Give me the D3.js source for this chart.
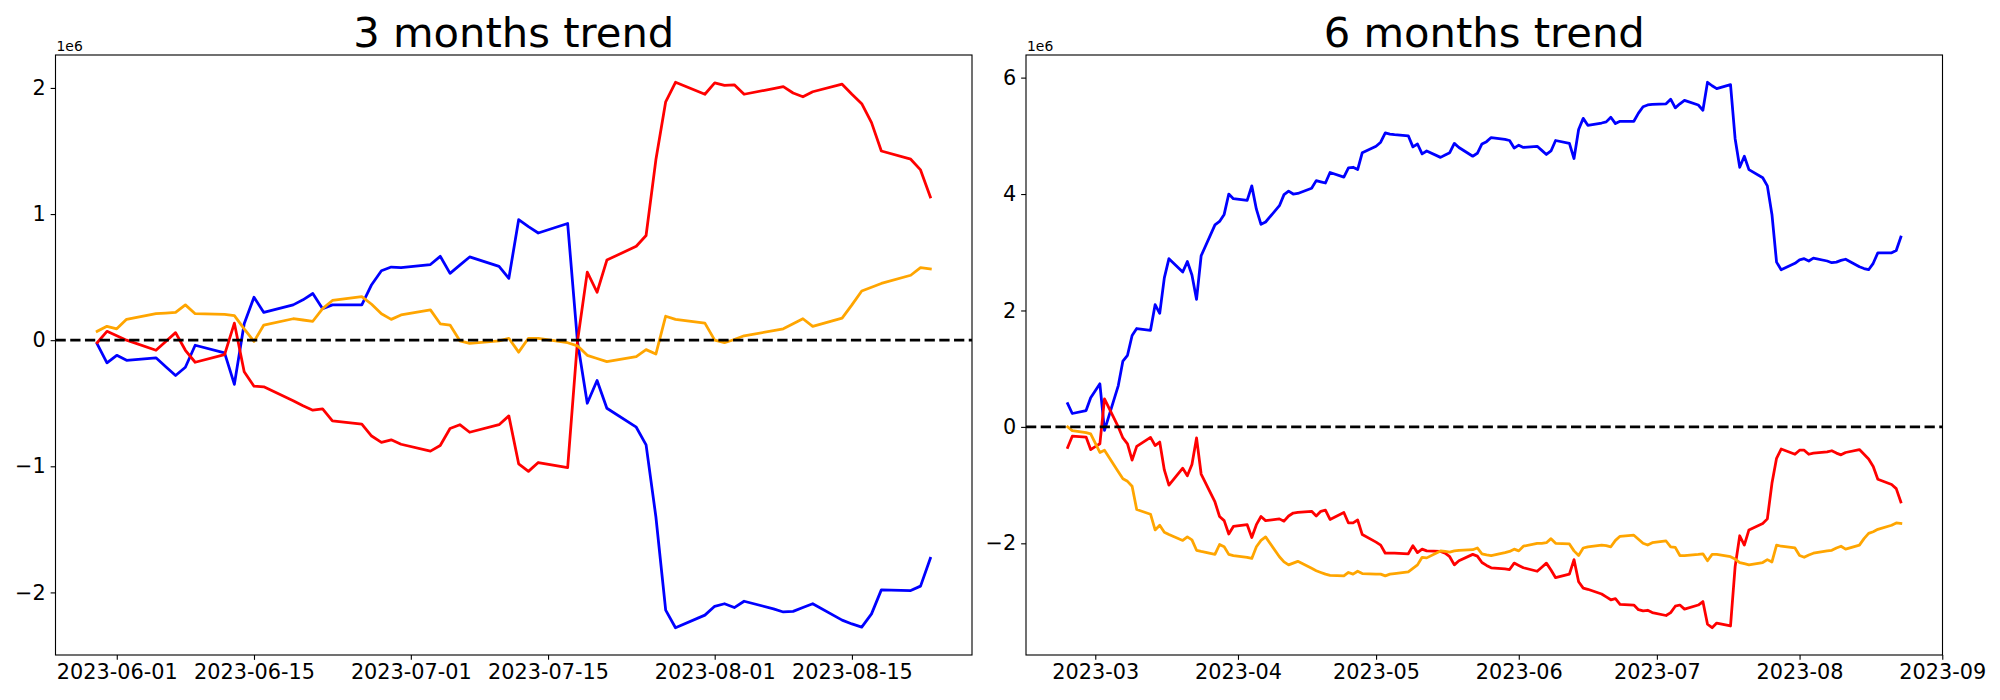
<!DOCTYPE html>
<html>
<head>
<meta charset="utf-8">
<script src="https://cdn.jsdelivr.net/npm/d3@7"></script>
<style>
  body { margin: 0; background: #fff; }
  text { font-family: "DejaVu Sans", sans-serif; }
</style>
</head>
<body>
<script>
// ---- data: 3 months panel ----
var dates3 = ["2023-05-30","2023-05-31","2023-06-01","2023-06-02","2023-06-05","2023-06-06","2023-06-07","2023-06-08","2023-06-09",
  "2023-06-12","2023-06-13","2023-06-14","2023-06-15","2023-06-16","2023-06-19","2023-06-20","2023-06-21","2023-06-22","2023-06-23",
  "2023-06-26","2023-06-27","2023-06-28","2023-06-29","2023-06-30","2023-07-03","2023-07-04","2023-07-05","2023-07-06","2023-07-07",
  "2023-07-10","2023-07-11","2023-07-12","2023-07-13","2023-07-14","2023-07-17","2023-07-18","2023-07-19","2023-07-20","2023-07-21",
  "2023-07-24","2023-07-25","2023-07-26","2023-07-27","2023-07-28","2023-07-31","2023-08-01","2023-08-02","2023-08-03","2023-08-04",
  "2023-08-07","2023-08-08","2023-08-09","2023-08-10","2023-08-11","2023-08-14","2023-08-15","2023-08-16","2023-08-17","2023-08-18",
  "2023-08-21","2023-08-22","2023-08-23"];
var blue3 = [-0.03,-0.18,-0.12,-0.16,-0.14,-0.21,-0.28,-0.215,-0.04,
  -0.10,-0.35,0.13,0.34,0.22,0.28,0.32,0.37,0.25,0.28,
  0.28,0.44,0.55,0.58,0.575,0.60,0.665,0.53,0.595,0.66,
  0.585,0.49,0.955,0.90,0.85,0.925,-0.01,-0.50,-0.32,-0.54,
  -0.69,-0.83,-1.40,-2.14,-2.28,-2.18,-2.11,-2.09,-2.12,-2.07,
  -2.13,-2.155,-2.15,-2.12,-2.09,-2.22,-2.25,-2.275,-2.17,-1.98,
  -1.985,-1.95,-1.73];
var red3 = [-0.02,0.07,0.035,0.0,-0.08,-0.01,0.06,-0.08,-0.175,
  -0.115,0.135,-0.25,-0.365,-0.37,-0.48,-0.52,-0.555,-0.545,-0.64,
  -0.665,-0.76,-0.81,-0.79,-0.825,-0.88,-0.835,-0.70,-0.67,-0.73,
  -0.67,-0.60,-0.98,-1.04,-0.97,-1.01,-0.01,0.54,0.38,0.635,
  0.745,0.83,1.43,1.89,2.045,1.95,2.04,2.02,2.025,1.95,
  1.995,2.01,1.96,1.93,1.97,2.03,1.95,1.875,1.725,1.50,
  1.435,1.35,1.135];
var orange3 = [0.07,0.11,0.09,0.165,0.21,0.215,0.22,0.28,0.21,
  0.205,0.195,0.09,-0.01,0.12,0.17,0.16,0.15,0.25,0.315,
  0.345,0.285,0.21,0.165,0.20,0.24,0.13,0.12,-0.005,-0.025,
  -0.005,0.015,-0.095,0.015,0.015,-0.02,-0.045,-0.12,-0.145,-0.17,
  -0.13,-0.075,-0.11,0.19,0.165,0.135,0.0,-0.02,0.005,0.035,
  0.075,0.09,0.13,0.17,0.11,0.175,0.28,0.39,0.42,0.45,
  0.515,0.575,0.565];
var ticks3 = ["2023-06-01","2023-06-15","2023-07-01","2023-07-15","2023-08-01","2023-08-15"];
var yTicks3 = [-2, -1, 0, 1, 2];

// ---- data: 6 months panel ----
var dates6 = ["2023-02-23","2023-02-24","2023-02-27","2023-02-28",
  "2023-03-01","2023-03-02","2023-03-03","2023-03-06","2023-03-07","2023-03-08","2023-03-09","2023-03-10","2023-03-13","2023-03-14",
  "2023-03-15","2023-03-16","2023-03-17","2023-03-20","2023-03-21","2023-03-22","2023-03-23","2023-03-24","2023-03-27","2023-03-28",
  "2023-03-29","2023-03-30","2023-03-31",
  "2023-04-03","2023-04-04","2023-04-05","2023-04-06","2023-04-07","2023-04-10","2023-04-11","2023-04-12","2023-04-13","2023-04-14",
  "2023-04-17","2023-04-18","2023-04-19","2023-04-20","2023-04-21","2023-04-24","2023-04-25","2023-04-26","2023-04-27","2023-04-28",
  "2023-05-01","2023-05-02","2023-05-03","2023-05-04","2023-05-05","2023-05-08","2023-05-09","2023-05-10","2023-05-11","2023-05-12",
  "2023-05-15","2023-05-16","2023-05-17","2023-05-18","2023-05-19","2023-05-22","2023-05-23","2023-05-24","2023-05-25","2023-05-26",
  "2023-05-29","2023-05-30","2023-05-31",
  "2023-06-01","2023-06-02","2023-06-05","2023-06-06","2023-06-07","2023-06-08","2023-06-09","2023-06-12","2023-06-13","2023-06-14",
  "2023-06-15","2023-06-16","2023-06-19","2023-06-20","2023-06-21","2023-06-22","2023-06-23","2023-06-26","2023-06-27","2023-06-28",
  "2023-06-29","2023-06-30",
  "2023-07-03","2023-07-04","2023-07-05","2023-07-06","2023-07-07","2023-07-10","2023-07-11","2023-07-12","2023-07-13","2023-07-14",
  "2023-07-17","2023-07-18","2023-07-19","2023-07-20","2023-07-21","2023-07-24","2023-07-25","2023-07-26","2023-07-27","2023-07-28",
  "2023-07-31",
  "2023-08-01","2023-08-02","2023-08-03","2023-08-04","2023-08-07","2023-08-08","2023-08-09","2023-08-10","2023-08-11","2023-08-14",
  "2023-08-15","2023-08-16","2023-08-17","2023-08-18","2023-08-21","2023-08-22","2023-08-23"];
var blue6 = [0.40,0.23,0.28,0.50,
  0.62,0.74,-0.06,0.71,1.13,1.23,1.57,1.69,1.66,2.10,
  1.95,2.56,2.89,2.66,2.84,2.61,2.19,2.94,3.47,3.53,
  3.65,4.00,3.92,
  3.89,4.14,3.74,3.48,3.52,3.80,3.99,4.05,4.00,4.01,
  4.10,4.23,4.21,4.19,4.37,4.29,4.45,4.46,4.42,4.71,
  4.82,4.89,5.05,5.03,5.02,5.00,4.81,4.86,4.69,4.74,
  4.63,4.67,4.71,4.87,4.80,4.65,4.70,4.86,4.90,4.97,
  4.94,4.92,4.79,
  4.84,4.80,4.82,4.75,4.68,4.74,4.92,4.87,4.61,5.11,
  5.30,5.18,5.22,5.24,5.32,5.21,5.25,5.25,5.39,5.50,
  5.53,5.54,
  5.55,5.63,5.48,5.55,5.61,5.53,5.44,5.92,5.86,5.81,
  5.88,4.95,4.46,4.65,4.42,4.28,4.14,3.65,2.83,2.70,
  2.81,
  2.87,2.89,2.85,2.90,2.85,2.82,2.83,2.86,2.88,2.75,
  2.72,2.70,2.81,2.99,2.99,3.03,3.26];
var red6 = [-0.355,-0.16,-0.175,-0.39,
  -0.34,-0.29,0.48,0.00,-0.19,-0.29,-0.57,-0.335,-0.18,-0.32,
  -0.26,-0.74,-1.00,-0.71,-0.84,-0.645,-0.19,-0.81,-1.29,-1.54,
  -1.61,-1.84,-1.71,
  -1.68,-1.90,-1.68,-1.54,-1.61,-1.58,-1.62,-1.53,-1.48,-1.47,
  -1.45,-1.53,-1.45,-1.43,-1.59,-1.47,-1.65,-1.65,-1.60,-1.85,
  -1.98,-2.03,-2.17,-2.17,-2.17,-2.18,-2.04,-2.16,-2.10,-2.13,
  -2.14,-2.17,-2.23,-2.37,-2.30,-2.19,-2.22,-2.33,-2.38,-2.42,
  -2.44,-2.45,-2.34,
  -2.38,-2.42,-2.48,-2.41,-2.34,-2.46,-2.59,-2.53,-2.28,-2.66,
  -2.77,-2.79,-2.87,-2.92,-2.97,-2.95,-3.05,-3.06,-3.14,-3.16,
  -3.15,-3.19,
  -3.24,-3.19,-3.08,-3.06,-3.13,-3.06,-3.00,-3.39,-3.45,-3.37,
  -3.42,-2.40,-1.87,-2.03,-1.77,-1.66,-1.58,-0.97,-0.54,-0.38,
  -0.47,
  -0.40,-0.40,-0.47,-0.45,-0.43,-0.41,-0.45,-0.48,-0.44,-0.39,
  -0.47,-0.55,-0.68,-0.90,-0.99,-1.06,-1.29];
var orange6 = [0.00,-0.065,-0.10,-0.12,
  -0.28,-0.44,-0.40,-0.77,-0.89,-0.935,-1.02,-1.42,-1.50,-1.77,
  -1.69,-1.81,-1.85,-1.95,-1.89,-1.94,-2.12,-2.14,-2.19,-2.02,
  -2.06,-2.19,-2.21,
  -2.24,-2.26,-2.06,-1.95,-1.89,-2.23,-2.32,-2.37,-2.34,-2.31,
  -2.43,-2.47,-2.50,-2.53,-2.55,-2.56,-2.50,-2.53,-2.48,-2.52,
  -2.53,-2.53,-2.56,-2.53,-2.52,-2.49,-2.43,-2.37,-2.24,-2.25,
  -2.13,-2.14,-2.15,-2.13,-2.12,-2.11,-2.08,-2.18,-2.20,-2.21,
  -2.16,-2.14,-2.10,
  -2.13,-2.05,-2.00,-2.00,-1.99,-1.92,-2.00,-2.01,-2.13,-2.21,
  -2.08,-2.06,-2.03,-2.04,-2.06,-1.95,-1.88,-1.86,-1.93,-2.00,
  -2.03,-1.99,
  -1.96,-2.06,-2.07,-2.21,-2.21,-2.19,-2.18,-2.30,-2.19,-2.19,
  -2.23,-2.27,-2.33,-2.35,-2.37,-2.33,-2.28,-2.32,-2.03,-2.05,
  -2.08,
  -2.21,-2.24,-2.20,-2.17,-2.13,-2.12,-2.08,-2.05,-2.10,-2.03,
  -1.92,-1.83,-1.80,-1.76,-1.69,-1.65,-1.66];
var ticks6 = ["2023-03-01","2023-04-01","2023-05-01","2023-06-01","2023-07-01","2023-08-01","2023-09-01"];
var yTicks6 = [-2, 0, 2, 4, 6];

var seriesColors = ["blue", "red", "orange"];

var width = 2000, height = 700;
var parse = d3.utcParse("%Y-%m-%d");

var svg = d3.select("body").append("svg")
    .attr("width", width)
    .attr("height", height);

svg.append("rect").attr("width", width).attr("height", height).attr("fill", "#fff");

// pad an extent by 5% each side, like matplotlib's autoscale
function padded(ext) {
    var m = (ext[1] - ext[0]) * 0.05;
    return [ext[0] - m, ext[1] + m];
}

function minus(v) {
    return v < 0 ? "\u2212" + Math.abs(v) : String(v);
}

function drawPanel(p) {
    var top = 55, bottom = 655;
    var dates = p.dates.map(parse);

    var xExt = padded(d3.extent(dates, function(d){ return +d; }));
    var x = d3.scaleUtc()
        .domain([new Date(xExt[0]), new Date(xExt[1])])
        .range([p.left, p.right]);

    var allVals = d3.merge(p.series);
    var y = d3.scaleLinear()
        .domain(padded(d3.extent(allVals)))
        .range([bottom, top]);

    var g = svg.append("g");

    // lines
    var line = d3.line()
        .x(function(d, i){ return x(dates[i]); })
        .y(function(d){ return y(d); });

    p.series.forEach(function(s, i){
        g.append("path")
            .datum(s)
            .attr("fill", "none")
            .attr("stroke", seriesColors[i])
            .attr("stroke-width", 2.78)
            .attr("stroke-linejoin", "round")
            .attr("stroke-linecap", "square")
            .attr("d", line);
    });

    // zero reference line
    g.append("line")
        .attr("x1", p.left).attr("x2", p.right)
        .attr("y1", y(0)).attr("y2", y(0))
        .attr("stroke", "#000")
        .attr("stroke-width", 2.78)
        .attr("stroke-dasharray", "10.28,4.45");

    // axes
    var xAxis = d3.axisBottom(x)
        .tickValues(p.xTicks.map(parse))
        .tickFormat(d3.utcFormat(p.xFormat))
        .tickSizeInner(4.86).tickSizeOuter(0).tickPadding(4.86);
    var yAxis = d3.axisLeft(y)
        .tickValues(p.yTicks)
        .tickFormat(minus)
        .tickSizeInner(4.86).tickSizeOuter(0).tickPadding(4.86);

    var gx = g.append("g").attr("transform", "translate(0," + bottom + ")").call(xAxis);
    var gy = g.append("g").attr("transform", "translate(" + p.left + ",0)").call(yAxis);

    [gx, gy].forEach(function(a){
        a.select(".domain").remove();
        a.selectAll(".tick line").attr("stroke", "#000").attr("stroke-width", 1.11);
        a.selectAll(".tick text")
            .attr("fill", "#000")
            .style("font-family", "'DejaVu Sans', sans-serif")
            .style("font-size", "20.8px");
    });

    // frame
    g.append("rect")
        .attr("x", p.left).attr("y", top)
        .attr("width", p.right - p.left).attr("height", bottom - top)
        .attr("fill", "none")
        .attr("stroke", "#000")
        .attr("stroke-width", 1.11);

    // offset text and title
    g.append("text")
        .attr("x", p.left + 1).attr("y", 51)
        .style("font-size", "13.9px")
        .text("1e6");

    g.append("text")
        .attr("x", (p.left + p.right) / 2).attr("y", 46.7)
        .attr("text-anchor", "middle")
        .style("font-size", "41.7px")
        .text(p.title);
}

drawPanel({
    title: "3 months trend",
    left: 55.5, right: 972,
    dates: dates3,
    series: [blue3, red3, orange3],
    xTicks: ticks3, xFormat: "%Y-%m-%d",
    yTicks: yTicks3
});

drawPanel({
    title: "6 months trend",
    left: 1026, right: 1942.5,
    dates: dates6,
    series: [blue6, red6, orange6],
    xTicks: ticks6, xFormat: "%Y-%m",
    yTicks: yTicks6
});
</script>
</body>
</html>
